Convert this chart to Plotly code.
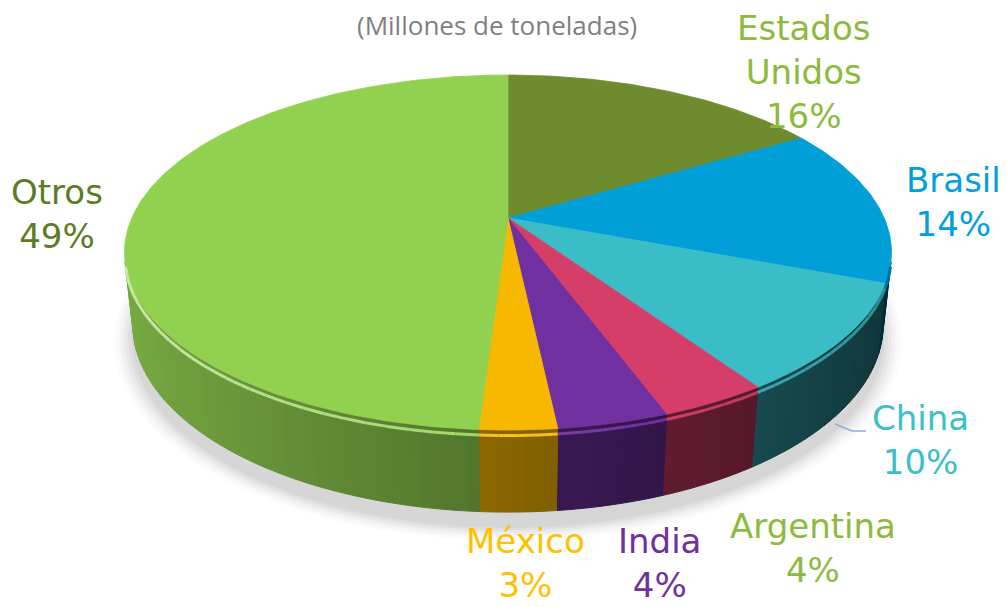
import numpy as np
import plotly.graph_objects as go

# ---------------- data ----------------
countries = ["Estados Unidos", "Brasil", "China", "Argentina", "India", "México", "Otros"]
values = [16.4, 14.4, 9.8, 3.8, 3.9, 2.7, 49.0]
label_names = ["Estados<br>Unidos", "Brasil", "China", "Argentina", "India", "México", "Otros"]
title_text = "(Millones de toneladas)"

# ---------------- styles ----------------
top_colors = ["#6E8B2E", "#009FD8", "#3BBDC8", "#D63E6A", "#7030A0", "#F9B800", "#92D050"]
label_colors = ["#8DBA3C", "#00A0DC", "#3BBFC9", "#8DBA3C", "#7030A0", "#FFC000", "#5B7B24"]
label_pos = [(803, 72), (953, 202), (920, 440), (813, 548), (659, 563), (525, 563), (57, 214)]

W, Hpx = 1007, 607
OFF = 8  # page body margin of the html page
CX, CY = 508, 218
FOC, DIST, ALPHA, THICK = 1723.0, 4.58, np.deg2rad(27), 0.216


def project(theta, y, r=1.0):
    x = r * np.sin(theta)
    z = r * np.cos(theta)
    u = y * np.cos(ALPHA) + z * np.sin(ALPHA)
    d = z * np.cos(ALPHA) - y * np.sin(ALPHA)
    return CX + FOC * x / (DIST + d), CY - FOC * u / (DIST + d)


def hex2rgb(h):
    h = h.lstrip("#")
    return [int(h[i:i + 2], 16) for i in (0, 2, 4)]


def shade(h, f):
    r, g, b = hex2rgb(h)
    if f <= 1:
        return "rgb(%d,%d,%d)" % (r * f, g * f, b * f)
    t = min(1.0, f - 1)
    return "rgb(%d,%d,%d)" % (r + (255 - r) * t, g + (255 - g) * t, b + (255 - b) * t)


total = sum(values)
fracs = [v / total for v in values]
cum = np.concatenate([[0], np.cumsum(fracs)]) * 2 * np.pi

fig = go.Figure()

# soft shadow
th = np.linspace(0, 2 * np.pi, 240)
for k, a in enumerate([0.015, 0.02, 0.025, 0.03, 0.035, 0.04]):
    r = 1.05 - k * 0.009
    px, py = project(th, -THICK - 0.02, r)
    fig.add_trace(go.Scatter(x=px, y=py + 7, fill="toself", mode="lines",
                             line=dict(width=0), fillcolor="rgba(0,0,0,%g)" % a,
                             hoverinfo="skip", showlegend=False))

# visible side range
cmin = -1.0 / (DIST * np.cos(ALPHA))
vis_lo = np.arccos(cmin)
vis_hi = 2 * np.pi - vis_lo

for i in range(len(values)):
    t0, t1 = max(cum[i], vis_lo), min(cum[i + 1], vis_hi)
    if t1 <= t0:
        continue
    n = max(1, int(np.ceil((t1 - t0) / np.deg2rad(1.5))))
    edges = np.linspace(t0, t1, n + 1)
    for a, b in zip(edges[:-1], edges[1:]):
        mid = 0.5 * (a + b)
        f = 0.55 - 0.28 * np.sin(mid)
        col = shade(top_colors[i], f)
        ts = np.linspace(a, b, 4)
        xt, yt = project(ts, 0.0)
        xb, yb = project(ts[::-1], -THICK)
        fig.add_trace(go.Scatter(x=np.concatenate([xt, xb, xt[:1]]),
                                 y=np.concatenate([yt, yb, yt[:1]]),
                                 fill="toself", mode="lines", fillcolor=col,
                                 line=dict(color=col, width=1),
                                 hoverinfo="skip", showlegend=False))

# top faces
for i in range(len(values)):
    ts = np.linspace(cum[i], cum[i + 1], max(3, int(fracs[i] * 400)))
    ax, ay = project(ts, 0.0)
    xs = np.concatenate([[CX], ax, [CX]])
    ys = np.concatenate([[CY], ay, [CY]])
    fig.add_trace(go.Scatter(x=xs, y=ys, fill="toself", mode="lines",
                             fillcolor=top_colors[i], line=dict(color=top_colors[i], width=0.8),
                             name=countries[i], hoverinfo="name", showlegend=False))

# bevel on the front edge (light on the left, dark on the right)
for i in range(len(values)):
    t0, t1 = max(cum[i], vis_lo), min(cum[i + 1], vis_hi)
    if t1 <= t0:
        continue
    n = max(1, int(np.ceil((t1 - t0) / np.deg2rad(3))))
    edges = np.linspace(t0, t1, n + 1)
    for a, b in zip(edges[:-1], edges[1:]):
        mid = 0.5 * (a + b)
        f = 1.12 - 0.4 * np.sin(mid)
        ts = np.linspace(a, b, 6)
        xh, yh = project(ts, -0.014)
        fig.add_trace(go.Scatter(x=xh, y=yh, mode="lines",
                                 line=dict(color=shade(top_colors[i], f), width=3),
                                 hoverinfo="skip", showlegend=False))

# labels
annotations = []
for i in range(len(values)):
    pct = round(fracs[i] * 100)
    annotations.append(dict(x=label_pos[i][0], y=label_pos[i][1], xref="x", yref="y",
                            text="%s<br>%d%%" % (label_names[i], pct), showarrow=False,
                            font=dict(family="DejaVu Sans", size=34, color=label_colors[i]),
                            align="center", xanchor="center", yanchor="middle"))
annotations.append(dict(x=497, y=25, xref="x", yref="y", text=title_text, showarrow=False,
                        font=dict(family="Open Sans", size=26, color="#7F7F7F"),
                        xanchor="center", yanchor="middle"))

fig.update_layout(
    width=W - OFF, height=Hpx - OFF, margin=dict(l=0, r=0, t=0, b=0),
    paper_bgcolor="white", plot_bgcolor="white",
    xaxis=dict(range=[OFF, W], visible=False, fixedrange=True),
    yaxis=dict(range=[Hpx, OFF], visible=False, fixedrange=True),
    annotations=annotations,
    shapes=[dict(type="path", path="M 835 424 L 852 431 L 866 431",
                 line=dict(color="#8FAADC", width=1.5), xref="x", yref="y")],
)

fig.write_html("out.html")
